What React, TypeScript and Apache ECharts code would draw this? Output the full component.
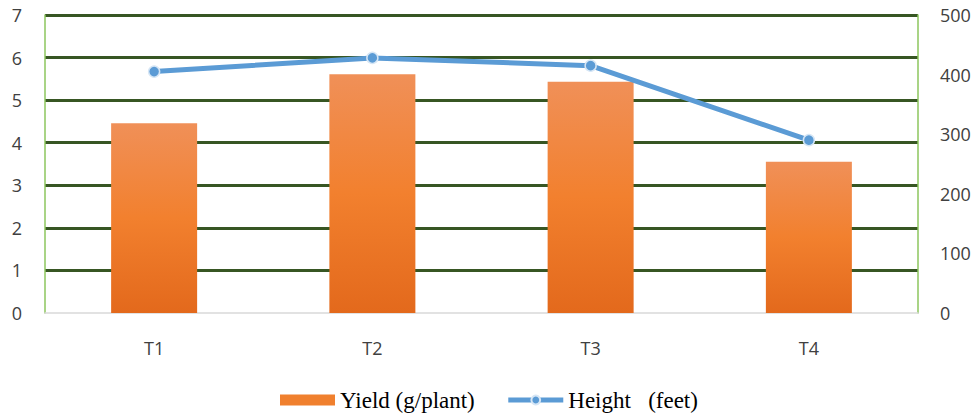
import React, { useEffect, useRef } from "react";
import * as echarts from "echarts";

const categories = ["T1", "T2", "T3", "T4"];
const yieldValues = [4.46, 5.61, 5.43, 3.55];
const heightValues = [405, 428, 415, 290];
const leftTicks = [0, 7, 1];
const rightTicks = [0, 500, 100];
const yieldName = "Yield (g/plant)";
const heightName = "Height   (feet)";

export default function App() {
  const ref = useRef<HTMLDivElement>(null);
  useEffect(() => {
    if (!ref.current) return;
    const chart = echarts.init(ref.current, null, { renderer: "svg" });
    const axisFont = { fontFamily: "Open Sans, Liberation Sans, sans-serif", fontSize: 18, color: "#404040" };
    const gridColors = ["rgba(0,0,0,0)", "#375623", "#375623", "#375623", "#375623", "#375623", "#375623", "#375623"];
    chart.setOption({
      animation: false,
      backgroundColor: "#ffffff",
      grid: { left: 45, right: 62, top: 15, bottom: 103, containLabel: false, show: false },
      legend: {
        top: 382,
        left: 275,
        itemGap: 31,
        itemWidth: 55,
        itemHeight: 11,
        textStyle: { fontFamily: "Liberation Serif, serif", fontSize: 23, lineHeight: 26, color: "#000000" },
        formatter: (n: string) => n.replace(/ /g, "\u00a0"),
        data: [
          { name: yieldName, icon: "rect", itemStyle: { color: "#F0802E" } },
          { name: heightName, lineStyle: { width: 5, color: "#5B9BD5" } },
        ],
      },
      xAxis: {
        type: "category",
        data: categories,
        axisLine: { show: true, lineStyle: { color: "#D9D9D9", width: 1.5 } },
        axisTick: { show: false },
        axisLabel: { ...axisFont, margin: 26 },
      },
      yAxis: [
        {
          type: "value",
          min: leftTicks[0],
          max: leftTicks[1],
          interval: leftTicks[2],
          axisLine: { show: true, lineStyle: { color: "#8CC65E", width: 1.5 } },
          axisTick: { show: false },
          axisLabel: { ...axisFont, margin: 23 },
          splitLine: { show: true, lineStyle: { color: gridColors, width: 3 } },
        },
        {
          type: "value",
          min: rightTicks[0],
          max: rightTicks[1],
          interval: rightTicks[2],
          position: "right",
          axisLine: { show: true, lineStyle: { color: "#8CC65E", width: 1.5 } },
          axisTick: { show: false },
          axisLabel: { ...axisFont, margin: 22 },
          splitLine: { show: false },
        },
      ],
      series: [
        {
          name: yieldName,
          type: "bar",
          data: yieldValues,
          barWidth: 86,
          yAxisIndex: 0,
          z: 3,
          itemStyle: {
            color: new echarts.graphic.LinearGradient(0, 0, 0, 1, [
              { offset: 0, color: "#F09058" },
              { offset: 0.5, color: "#F2802E" },
              { offset: 1, color: "#E3691C" },
            ]),
          },
        },
        {
          name: heightName,
          type: "line",
          data: heightValues,
          yAxisIndex: 1,
          z: 5,
          symbol: "circle",
          symbolSize: 11,
          lineStyle: { color: "#5B9BD5", width: 5 },
          itemStyle: { color: "#5B9BD5", borderColor: "#D6E6F5", borderWidth: 1.5 },
        },
      ],
    });
    return () => chart.dispose();
  }, []);
  return <div ref={ref} style={{ width: 980, height: 416, position: "absolute", left: 0, top: 0 }} />;
}
